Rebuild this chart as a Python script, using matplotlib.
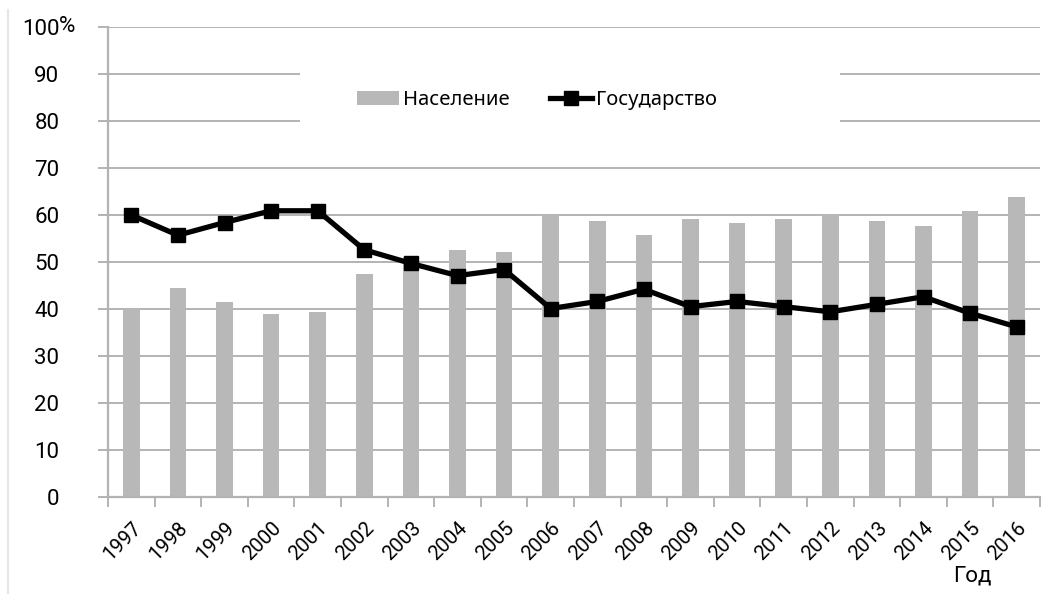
import matplotlib
matplotlib.use("Agg")
import matplotlib.pyplot as plt
import matplotlib.transforms as mtrans
from matplotlib.patches import Rectangle
from matplotlib.lines import Line2D
import numpy as np

years = ["1997", "1998", "1999", "2000", "2001", "2002", "2003", "2004", "2005", "2006",
         "2007", "2008", "2009", "2010", "2011", "2012", "2013", "2014", "2015", "2016"]
population = [40.0, 44.5, 41.5, 38.9, 39.4, 47.5, 51.0, 52.6, 52.1, 59.9,
              58.7, 55.7, 59.2, 58.2, 59.2, 60.3, 58.7, 57.7, 60.8, 63.8]
state = [60.0, 55.7, 58.4, 60.9, 60.9, 52.6, 49.7, 47.1, 48.4, 40.1,
         41.6, 44.2, 40.5, 41.6, 40.5, 39.4, 41.0, 42.6, 39.1, 36.2]
ytick_vals = [0, 10, 20, 30, 40, 50, 60, 70, 80, 90, 100]
ytick_labels = ["0", "10", "20", "30", "40", "50", "60", "70", "80", "90", "100"]
label_pop = "Население"
label_state = "Государство"
xlabel = "Год"

tick_font = ["Roboto", "DejaVu Sans"]
legend_font = ["Noto Sans", "DejaVu Sans"]
grid_c = "#b3b3b3"
bar_c = "#b7b8b7"
FS = 16
FSX = 14.5

fig = plt.figure(figsize=(10.61, 5.94), dpi=100)
W, H = 1061, 594
ax = fig.add_axes([108 / W, 1 - 497 / H, (1040 - 108) / W, (497 - 27) / H])

x = np.arange(len(years))
ax.bar(x, population, width=0.36, color=bar_c, zorder=2)
ax.plot(x, state, color="black", lw=3.8, marker="s", markersize=10.5, zorder=4)

ax.set_xlim(-0.5, len(years) - 0.5)
ax.set_ylim(0, 100)
for v in ytick_vals[1:]:
    ax.axhline(v, color=grid_c, lw=1.4, zorder=1)

ax.set_yticks(ytick_vals)
ax.set_yticklabels(ytick_labels, family=tick_font, fontsize=FS)
ax.tick_params(axis="y", direction="out", length=7, width=1.4, color=grid_c, pad=28)
ax.text(-0.0525, 100, "%", transform=mtrans.blended_transform_factory(ax.transAxes, ax.transData),
        ha="left", va="center", family=tick_font, fontsize=FS)

ax.set_xticks(x)
ax.set_xticklabels(years, family=tick_font, fontsize=FSX, rotation=45, ha="right",
                   va="center", rotation_mode="anchor")
ax.tick_params(axis="x", length=0, pad=18)
shift = mtrans.ScaledTranslation(7 / 100, -3 / 100, fig.dpi_scale_trans)
for lab in ax.get_xticklabels():
    lab.set_transform(lab.get_transform() + shift)
ax.set_xticks(np.arange(-0.5, len(years)), minor=True)
ax.tick_params(axis="x", which="minor", direction="out", length=7, width=1.4, color=grid_c)

for s in ["top", "right"]:
    ax.spines[s].set_visible(False)
for s in ["left", "bottom"]:
    ax.spines[s].set_color(grid_c)
    ax.spines[s].set_linewidth(1.6)
    ax.spines[s].set_zorder(3)

# white legend background
ax.add_patch(Rectangle((0.206, 76.5), 0.579, 17, transform=mtrans.blended_transform_factory(ax.transAxes, ax.transData),
                       facecolor="white", edgecolor="none", zorder=1.5))
handles = [Rectangle((0, 0), 1, 1, facecolor=bar_c, edgecolor="none"),
           Line2D([0], [0], color="black", lw=3.8, marker="s", markersize=10.5)]
leg = ax.legend(handles, [label_pop, label_state], ncol=2, frameon=False,
                loc="center", bbox_to_anchor=((537 - 108) / 932, (497 - 100) / 470),
                prop={"family": legend_font, "size": 14.5}, handlelength=2.1,
                handletextpad=0.2, columnspacing=2.0)

fig.text(972 / W, 1 - 576 / H, xlabel, ha="center", va="center", family=tick_font, fontsize=FS)
fig.add_artist(Line2D([8 / W, 8 / W], [0, 1 - 10 / H], transform=fig.transFigure, color="#e6e6e6", lw=1.5))

fig.savefig("out.png", dpi=100)
